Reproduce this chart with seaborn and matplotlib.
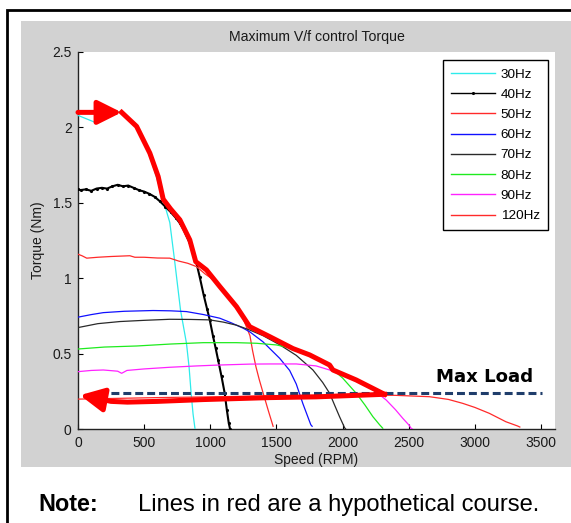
import matplotlib
matplotlib.use("Agg")
import matplotlib.pyplot as plt
from matplotlib.patches import Rectangle
import numpy as np
import pandas as pd
import seaborn as sns

plt.rcParams["font.family"] = ["Liberation Sans", "DejaVu Sans"]

# ---- measured torque curves: speed (RPM) / torque (Nm) ----
rpm_30 = [0, 140, 128, 200, 330, 443, 518, 580, 644, 694, 730, 775, 820, 840, 855, 870, 885]
tq_30 = [2.08, 2.03, 2.14, 2.12, 2.10, 2.02, 1.87, 1.71, 1.52, 1.37, 1.12, 0.79, 0.57, 0.41, 0.24, 0.10, 0.0]

rpm_40 = [0, 20, 60, 100, 140, 180, 220, 260, 300, 340, 380, 420, 460, 500, 540, 580,
          620, 660, 700, 740, 770, 800, 845, 870, 896, 920, 950, 975, 996, 1020, 1040,
          1059, 1085, 1109, 1125, 1140, 1150]
tq_40 = [1.59, 1.585, 1.59, 1.58, 1.595, 1.60, 1.595, 1.61, 1.62, 1.61, 1.615, 1.60, 1.585,
         1.575, 1.56, 1.54, 1.51, 1.475, 1.44, 1.40, 1.366, 1.32, 1.233, 1.17, 1.10, 1.01,
         0.89, 0.80, 0.725, 0.62, 0.54, 0.46, 0.35, 0.239, 0.13, 0.04, 0.0]

rpm_50 = [0, 30, 66, 150, 250, 392, 430, 500, 600, 694, 760, 830, 896, 960, 1060, 1130,
          1198, 1250, 1300, 1320, 1345, 1370, 1400, 1440, 1475]
tq_50 = [1.16, 1.15, 1.134, 1.14, 1.145, 1.15, 1.14, 1.14, 1.135, 1.134, 1.115, 1.10, 1.078,
         1.03, 0.968, 0.89, 0.813, 0.73, 0.62, 0.52, 0.415, 0.33, 0.239, 0.12, 0.02]

rpm_60 = [0, 100, 191, 350, 568, 700, 820, 950, 1072, 1160, 1248, 1300, 1398, 1525, 1600,
          1650, 1700, 1730, 1760, 1770]
tq_60 = [0.743, 0.76, 0.773, 0.782, 0.787, 0.785, 0.78, 0.76, 0.736, 0.705, 0.67, 0.645,
         0.58, 0.47, 0.39, 0.30, 0.17, 0.10, 0.03, 0.02]

rpm_70 = [0, 150, 317, 500, 694, 850, 996, 1100, 1198, 1298, 1400, 1525, 1650, 1776, 1850,
          1902, 1940, 1977, 2000, 2015, 2025]
tq_70 = [0.674, 0.70, 0.714, 0.722, 0.729, 0.728, 0.725, 0.71, 0.69, 0.658, 0.62, 0.56,
         0.49, 0.393, 0.31, 0.239, 0.16, 0.084, 0.04, 0.011, 0.0]

rpm_80 = [0, 200, 443, 700, 946, 1198, 1350, 1500, 1625, 1700, 1800, 1902, 2000, 2103,
          2170, 2229, 2280, 2304]
tq_80 = [0.532, 0.545, 0.552, 0.565, 0.574, 0.574, 0.57, 0.559, 0.535, 0.51, 0.47, 0.415,
         0.34, 0.239, 0.16, 0.084, 0.03, 0.007]

rpm_90 = [0, 100, 191, 300, 330, 370, 500, 694, 900, 1072, 1300, 1449, 1650, 1800, 1902,
          2000, 2153, 2250, 2330, 2400, 2455, 2500, 2518, 2530]
tq_90 = [0.382, 0.39, 0.393, 0.385, 0.371, 0.39, 0.40, 0.411, 0.42, 0.426, 0.432, 0.433,
         0.433, 0.42, 0.393, 0.36, 0.305, 0.25, 0.194, 0.13, 0.073, 0.03, 0.007, 0.0]

rpm_120 = [0, 300, 600, 1000, 1500, 2000, 2400, 2657, 2800, 2908, 3000, 3109, 3235, 3323, 3340]
tq_120 = [0.20, 0.205, 0.21, 0.215, 0.222, 0.227, 0.225, 0.216, 0.198, 0.172, 0.145, 0.106,
          0.05, 0.022, 0.015]

series_names = ["30Hz", "40Hz", "50Hz", "60Hz", "70Hz", "80Hz", "90Hz", "120Hz"]
series_rpm = [rpm_30, rpm_40, rpm_50, rpm_60, rpm_70, rpm_80, rpm_90, rpm_120]
series_tq = [tq_30, tq_40, tq_50, tq_60, tq_70, tq_80, tq_90, tq_120]
series_colors = ["#2EEBEB", "#000000", "#FF2A2A", "#1010FF", "#2A2A2A", "#1EEB1E", "#FF22FF", "#FF2A2A"]

# ---- hypothetical operating course (thick red) ----
start_rpm = [0, 330]
start_tq = [2.10, 2.10]
course_rpm = [330, 443, 543, 606, 644, 700, 770, 845, 890, 971, 1072, 1198, 1298, 1449,
              1625, 1751, 1902, 1927, 2103, 2317]
course_tq = [2.10, 2.007, 1.83, 1.675, 1.525, 1.46, 1.388, 1.255, 1.111, 1.056, 0.946,
             0.813, 0.68, 0.614, 0.535, 0.493, 0.426, 0.393, 0.327, 0.232]
return_rpm = [2317, 1800, 1449, 946, 600, 373, 250, 170]
return_tq = [0.232, 0.215, 0.21, 0.197, 0.185, 0.18, 0.185, 0.20]
return_tip = (15, 0.226)

max_load = 0.24
max_load_rpm = [160, 3510]

x_ticks = [0, 500, 1000, 1500, 2000, 2500, 3000, 3500]
y_ticks = [0, 0.5, 1, 1.5, 2, 2.5]
y_tick_labels = ["0", "0.5", "1", "1.5", "2", "2.5"]

# long-form table for seaborn
frames = []
for name, xs, ys in zip(series_names, series_rpm, series_tq):
    frames.append(pd.DataFrame({"speed": xs, "torque": ys, "freq": name,
                                "order": np.arange(len(xs))}))
data = pd.concat(frames, ignore_index=True)

W, H = 571, 523
fig = plt.figure(figsize=(W / 100, H / 100), dpi=100)
fig.patch.set_facecolor("white")

# grey figure panel and outer frame (drawn beneath the axes)
fig.patches.append(Rectangle((21 / W, 1 - 467 / H), 1.0, (467 - 21) / H,
                             transform=fig.transFigure, facecolor="#D2D2D2",
                             edgecolor="none", zorder=0))
frame_top = 1 - 10 / H
fig.patches.append(Rectangle((7 / W, -0.2), 1.2, frame_top + 0.2,
                             transform=fig.transFigure, facecolor="none",
                             edgecolor="black", linewidth=2.0, zorder=0.5))

ax = fig.add_axes([78 / W, 1 - 429.3 / H, 477 / W, 377.3 / H])
ax.set_zorder(2)
ax.set_facecolor("white")

for name, color in zip(series_names, series_colors):
    sub = data[data["freq"] == name].sort_values("order")
    kw = dict(lw=0.9)
    if name == "40Hz":
        kw = dict(lw=1.5, marker=".", markersize=4.5, markeredgewidth=0,
                  markeredgecolor="black", markerfacecolor="black")
    sns.lineplot(x=sub["speed"].to_numpy(), y=sub["torque"].to_numpy(), ax=ax,
                 color=color, label=name, sort=False, estimator=None, zorder=3, **kw)

# max load level
sns.lineplot(x=max_load_rpm, y=[max_load, max_load], ax=ax, color="#1F3D6B", lw=2.2,
             sort=False, estimator=None, zorder=4, legend=False)
ax.get_lines()[-1].set_dashes((2.6, 1.3))

# hypothetical course
red = "#FF0000"
sns.lineplot(x=course_rpm, y=course_tq, ax=ax, color=red, lw=3.6, sort=False,
             estimator=None, zorder=6, legend=False)
sns.lineplot(x=return_rpm, y=return_tq, ax=ax, color=red, lw=3.6, sort=False,
             estimator=None, zorder=6, legend=False)
ax.annotate("", xy=(start_rpm[1], start_tq[1]), xytext=(start_rpm[0], start_tq[0]),
            arrowprops=dict(arrowstyle="-|>,head_length=0.8,head_width=0.4",
                            mutation_scale=18, lw=3.6, color=red, shrinkA=0, shrinkB=0),
            zorder=7)
ax.annotate("", xy=return_tip, xytext=(return_rpm[-1], return_tq[-1]),
            arrowprops=dict(arrowstyle="-|>,head_length=0.8,head_width=0.4",
                            mutation_scale=18, lw=3.6, color=red, shrinkA=0, shrinkB=0),
            zorder=7)

ax.text(2709, 0.316, "Max Load", fontsize=13.1, fontweight="bold",
        family="DejaVu Sans", color="black", ha="left", va="baseline", zorder=8)

ax.set_xlim(0, 3606)
ax.set_ylim(0, 2.5)
ax.set_xticks(x_ticks)
ax.set_xticklabels([str(t) for t in x_ticks])
ax.set_yticks(y_ticks)
ax.set_yticklabels(y_tick_labels)
ax.tick_params(direction="in", length=3.5, width=0.8, colors="black",
               labelcolor="#1A1A1A", labelsize=10)
ax.tick_params(axis="x", pad=5)
ax.tick_params(axis="y", pad=4.5)
for side in ("top", "right"):
    ax.spines[side].set_visible(False)
for side in ("left", "bottom"):
    ax.spines[side].set_color("#222222")
    ax.spines[side].set_linewidth(1.0)

ax.set_xlabel("Speed (RPM)", fontsize=10, color="#1A1A1A", va="center")
ax.xaxis.set_label_coords(0.5, -(460 - 429.3) / 377.3)
ax.set_ylabel("Torque (Nm)", fontsize=10, color="#1A1A1A", va="center")
ax.yaxis.set_label_coords(-(78 - 38) / 477, 0.5)
ax.text(0.5, 1 + (52 - 37.5) / 377.3, "Maximum V/f control Torque", transform=ax.transAxes,
        fontsize=10.2, ha="center", va="center", color="#1A1A1A")

leg = ax.legend(loc="upper right", bbox_to_anchor=((547.7 - 78) / 477, (429.3 - 60) / 377.3),
                borderaxespad=0, fontsize=9.7, handlelength=3.2, handletextpad=0.45,
                borderpad=0.6, labelspacing=0.58, frameon=True, fancybox=False,
                framealpha=1, edgecolor="black", numpoints=1)
leg.get_frame().set_linewidth(1.0)
leg.set_zorder(10)
for handle in leg.get_lines():
    handle.set_linewidth(1.0)

fig.text(38.3 / W, 1 - 511 / H, "Note:", fontsize=16.8, fontweight="bold",
         ha="left", va="baseline", color="black")
fig.text(138.3 / W, 1 - 511 / H, "Lines in red are a hypothetical course.", fontsize=17.1,
         ha="left", va="baseline", color="black")

fig.savefig("out.png", dpi=100, facecolor="white")
